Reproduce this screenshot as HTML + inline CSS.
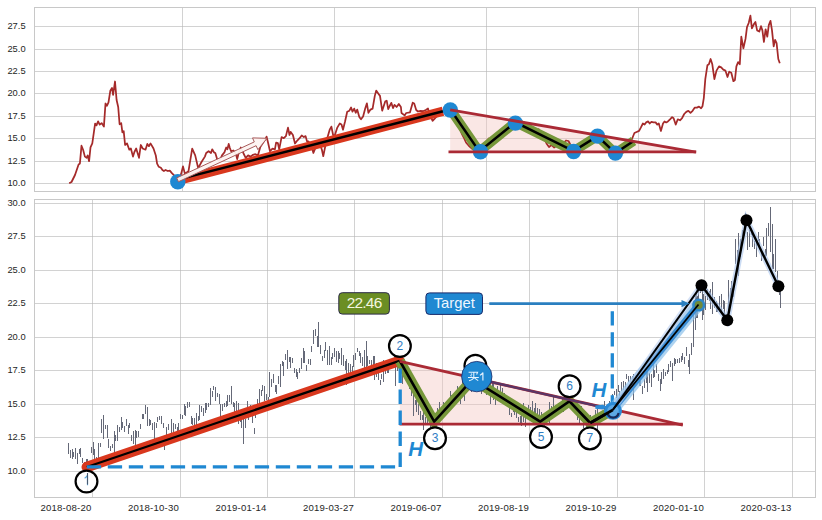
<!DOCTYPE html><html><head><meta charset="utf-8"><style>html,body{margin:0;padding:0;background:#fff;overflow:hidden;}svg{display:block;}</style></head><body>
<svg width="822" height="520" viewBox="0 0 822 520" font-family="Liberation Sans, sans-serif">
<rect width="822" height="520" fill="#fff"/>
<g stroke="#b6b6b6" stroke-opacity="0.62" stroke-width="1" fill="none" shape-rendering="crispEdges">
<line x1="34" y1="26.5" x2="816" y2="26.5"/>
<line x1="34" y1="49.5" x2="816" y2="49.5"/>
<line x1="34" y1="71.5" x2="816" y2="71.5"/>
<line x1="34" y1="93.5" x2="816" y2="93.5"/>
<line x1="34" y1="116.5" x2="816" y2="116.5"/>
<line x1="34" y1="138.5" x2="816" y2="138.5"/>
<line x1="34" y1="161.5" x2="816" y2="161.5"/>
<line x1="34" y1="183.5" x2="816" y2="183.5"/>
<line x1="182.5" y1="7" x2="182.5" y2="192"/>
<line x1="334.5" y1="7" x2="334.5" y2="192"/>
<line x1="486.5" y1="7" x2="486.5" y2="192"/>
<line x1="638.5" y1="7" x2="638.5" y2="192"/>
<line x1="790.5" y1="7" x2="790.5" y2="192"/>
<rect x="34.5" y="7.5" width="781" height="184" stroke="#c8c8c8" stroke-opacity="1"/>
<line x1="34" y1="203.5" x2="816" y2="203.5"/>
<line x1="34" y1="236.5" x2="816" y2="236.5"/>
<line x1="34" y1="270.5" x2="816" y2="270.5"/>
<line x1="34" y1="303.5" x2="816" y2="303.5"/>
<line x1="34" y1="337.5" x2="816" y2="337.5"/>
<line x1="34" y1="370.5" x2="816" y2="370.5"/>
<line x1="34" y1="404.5" x2="816" y2="404.5"/>
<line x1="34" y1="437.5" x2="816" y2="437.5"/>
<line x1="34" y1="471.5" x2="816" y2="471.5"/>
<line x1="92.5" y1="199" x2="92.5" y2="498"/>
<line x1="180.5" y1="199" x2="180.5" y2="498"/>
<line x1="267.5" y1="199" x2="267.5" y2="498"/>
<line x1="354.5" y1="199" x2="354.5" y2="498"/>
<line x1="442.5" y1="199" x2="442.5" y2="498"/>
<line x1="529.5" y1="199" x2="529.5" y2="498"/>
<line x1="617.5" y1="199" x2="617.5" y2="498"/>
<line x1="704.5" y1="199" x2="704.5" y2="498"/>
<line x1="792.5" y1="199" x2="792.5" y2="498"/>
<rect x="34.5" y="199.5" width="781" height="298" stroke="#c8c8c8" stroke-opacity="1"/>
</g>
<g fill="#262626" font-size="9.35" text-anchor="end">
<text x="25.6" y="29.4">27.5</text>
<text x="25.6" y="52.4">25.0</text>
<text x="25.6" y="74.4">22.5</text>
<text x="25.6" y="96.4">20.0</text>
<text x="25.6" y="119.4">17.5</text>
<text x="25.6" y="141.4">15.0</text>
<text x="25.6" y="164.4">12.5</text>
<text x="25.6" y="186.4">10.0</text>
<text x="25.6" y="206.4">30.0</text>
<text x="25.6" y="239.4">27.5</text>
<text x="25.6" y="273.4">25.0</text>
<text x="25.6" y="306.4">22.5</text>
<text x="25.6" y="340.4">20.0</text>
<text x="25.6" y="373.4">17.5</text>
<text x="25.6" y="407.4">15.0</text>
<text x="25.6" y="440.4">12.5</text>
<text x="25.6" y="474.4">10.0</text>
<text x="91.5" y="511" font-size="9.6" letter-spacing="0.2">2018-08-20</text>
<text x="179.0" y="511" font-size="9.6" letter-spacing="0.2">2018-10-30</text>
<text x="266.5" y="511" font-size="9.6" letter-spacing="0.2">2019-01-14</text>
<text x="354.0" y="511" font-size="9.6" letter-spacing="0.2">2019-03-27</text>
<text x="441.5" y="511" font-size="9.6" letter-spacing="0.2">2019-06-07</text>
<text x="529.0" y="511" font-size="9.6" letter-spacing="0.2">2019-08-19</text>
<text x="616.5" y="511" font-size="9.6" letter-spacing="0.2">2019-10-29</text>
<text x="704.0" y="511" font-size="9.6" letter-spacing="0.2">2020-01-10</text>
<text x="791.5" y="511" font-size="9.6" letter-spacing="0.2">2020-03-13</text>
</g>
<polygon points="450.2,109.8 696,152.1 696,151.9 450.2,151.9" fill="#f4c6c0" fill-opacity="0.42"/>
<path d="M69.2,183.2 L71.5,182.0 L75.0,175.0 L78.5,164.7 L79.9,163.5 L81.5,145.7 L83.1,149.7 L84.9,156.6 L86.6,157.8 L87.7,155.5 L89.1,161.2 L90.5,147.4 L92.3,143.4 L95.1,123.6 L96.5,125.4 L98.1,121.3 L99.7,124.7 L101.6,123.1 L103.9,126.6 L105.5,103.5 L106.9,105.8 L108.5,102.3 L110.3,90.8 L112.0,88.0 L113.1,94.9 L115.0,81.5 L116.6,100.0 L118.2,107.0 L119.6,124.3 L121.2,123.1 L122.4,132.4 L123.7,131.2 L125.1,145.0 L127.0,143.4 L129.3,149.7 L130.9,148.5 L133.0,156.6 L134.4,152.0 L136.2,148.5 L139.0,157.8 L140.8,145.0 L142.7,148.5 L145.5,149.7 L147.3,143.9 L148.9,146.2 L150.5,143.4 L153.5,148.5 L155.8,155.5 L157.1,163.6 L158.8,166.8 L160.9,167.8 L162.4,170.0 L163.9,171.0 L165.6,170.0 L167.7,171.0 L169.8,170.6 L171.9,173.1 L175.1,176.3 L178.3,180.5 L181.2,173.7 L183.0,166.4 L184.9,173.7 L188.5,171.2 L192.2,148.7 L195.2,155.4 L198.2,168.2 L201.5,162.0 L204.9,156.6 L206.2,153.0 L208.6,151.2 L211.0,153.0 L212.2,149.3 L214.0,152.4 L215.3,153.0 L217.1,159.1 L219.5,161.0 L222.0,155.4 L224.4,152.4 L226.2,147.5 L227.4,149.3 L228.7,143.9 L229.9,148.1 L231.1,151.2 L233.5,150.5 L236.0,154.2 L237.2,159.1 L238.4,154.2 L240.8,147.5 L243.3,153.0 L245.7,157.8 L248.1,155.4 L250.6,156.6 L253.0,154.8 L255.4,154.2 L257.9,155.4 L260.3,146.9 L262.7,143.2 L265.2,139.6 L266.6,136.6 L268.2,143.2 L270.0,151.2 L272.5,148.7 L274.9,149.3 L276.1,142.6 L277.9,143.2 L279.2,149.3 L281.6,137.1 L283.8,138.2 L285.9,136.1 L288.0,127.6 L289.5,135.0 L290.7,131.9 L292.9,135.0 L295.0,143.5 L297.5,140.3 L299.6,138.2 L301.7,135.4 L303.9,137.1 L305.6,136.1 L307.0,141.4 L308.5,141.4 L311.3,145.6 L313.4,153.0 L315.5,147.7 L317.6,143.5 L320.4,145.6 L321.9,149.8 L323.3,156.2 L325.4,145.6 L327.6,137.1 L329.7,129.7 L331.4,126.6 L333.1,135.0 L334.6,136.1 L337.3,127.6 L339.8,123.4 L341.5,124.4 L343.0,129.7 L345.1,121.3 L347.2,111.7 L349.4,110.7 L351.1,107.5 L352.5,111.7 L354.2,108.6 L355.7,112.8 L357.2,109.6 L359.3,117.0 L361.0,119.2 L363.1,116.4 L365.2,108.6 L366.9,103.3 L368.4,112.8 L370.5,109.6 L372.6,108.6 L374.8,95.9 L376.2,90.6 L378.4,93.8 L380.0,95.9 L382.2,110.7 L385.3,101.2 L386.7,100.7 L388.2,109.2 L389.7,106.0 L391.3,102.8 L393.0,108.1 L394.5,104.9 L396.6,107.0 L398.8,103.9 L400.9,107.0 L401.5,113.0 L404.6,115.4 L406.2,113.0 L410.0,112.3 L412.7,102.7 L414.2,103.5 L416.2,110.0 L418.0,111.5 L420.4,110.8 L423.0,111.2 L425.8,110.0 L428.0,108.5 L429.4,114.4 L431.1,117.6 L432.6,120.8 L434.7,118.7 L437.0,116.0 L440.0,114.0 L443.0,112.0 L446.0,111.0 L450.2,109.8 L453.5,115.0 L456.5,121.5 L459.5,128.5 L461.5,133.0 L463.5,137.0 L466.0,142.5 L469.0,146.0 L472.5,149.0 L476.0,151.0 L479.3,151.5 L482.0,148.0 L485.0,143.0 L488.7,138.5 L491.0,140.0 L494.0,136.0 L497.5,133.0 L501.0,130.5 L504.5,128.0 L508.0,126.0 L511.0,124.5 L515.4,122.3 L519.0,124.0 L523.0,126.5 L527.0,128.0 L531.0,130.0 L535.0,131.5 L538.7,129.2 L541.0,134.0 L544.0,138.0 L546.5,143.5 L549.0,147.0 L551.5,145.0 L554.0,147.5 L557.0,145.5 L560.0,146.0 L563.0,143.5 L566.0,140.5 L568.5,141.0 L571.0,146.0 L573.6,150.5 L577.0,147.0 L581.0,144.0 L585.0,141.5 L589.0,139.5 L593.0,137.5 L597.5,136.1 L601.0,140.0 L604.0,143.5 L607.0,147.0 L610.0,150.0 L613.0,152.5 L615.4,153.1 L619.0,150.0 L623.0,147.0 L627.0,144.0 L630.0,141.0 L632.3,138.3 L634.4,133.0 L636.6,132.0 L639.1,130.9 L640.8,127.7 L642.9,123.5 L644.6,124.6 L646.1,122.4 L648.2,121.4 L649.7,123.5 L651.4,121.8 L653.5,122.4 L655.6,122.4 L657.3,124.6 L658.8,123.5 L660.9,130.9 L663.0,123.5 L664.5,121.4 L666.2,122.4 L667.9,121.4 L670.0,119.3 L672.1,117.1 L673.6,118.2 L675.7,124.6 L677.8,119.3 L680.0,120.3 L682.1,118.2 L684.2,114.0 L686.3,111.9 L688.4,110.8 L690.5,112.9 L692.6,110.8 L694.8,107.6 L696.9,107.6 L699.0,106.6 L701.1,108.3 L702.5,106.2 L703.8,98.1 L705.3,79.1 L707.4,65.3 L708.9,64.3 L710.6,59.0 L712.3,64.3 L714.4,79.1 L716.5,70.6 L719.0,66.4 L721.2,67.4 L723.3,69.6 L725.4,70.6 L727.5,77.0 L729.2,71.7 L731.3,72.7 L733.4,81.2 L734.9,80.1 L736.4,66.4 L738.1,62.1 L739.8,64.3 L741.3,36.7 L743.4,48.4 L745.5,38.9 L747.0,27.2 L748.7,23.0 L750.4,15.6 L751.9,28.3 L754.0,24.0 L755.4,21.9 L757.1,30.4 L759.3,31.5 L761.0,26.2 L762.4,30.4 L763.9,42.0 L765.6,29.3 L767.3,36.7 L768.8,25.1 L770.5,20.9 L772.0,30.4 L773.7,46.3 L775.1,39.9 L776.6,43.1 L778.3,59.0 L779.8,63.2" fill="none" stroke="#a52a2a" stroke-width="1.75" stroke-linejoin="round"/>
<line x1="177.7" y1="180.6" x2="443" y2="111.3" stroke="#d9381e" stroke-width="9.2" stroke-linecap="butt"/>
<line x1="177.7" y1="179.6" x2="443" y2="111.3" stroke="#000" stroke-width="2.5"/>
<polyline points="450.6,109.8 479.3,151.5 515.4,122.3 573.6,151.0 597.5,136.1 615.4,153.1 633.6,141.0" fill="none" stroke="#76973a" stroke-width="9.5" stroke-linejoin="miter"/>
<polyline points="450.6,109.8 479.3,151.5 515.4,122.3 573.6,151.0 597.5,136.1 615.4,153.1 633.6,141.0" fill="none" stroke="#000" stroke-width="2.5" stroke-linejoin="miter"/>
<circle cx="177.8" cy="181.8" r="7.7" fill="#1f88d2"/>
<circle cx="450.3" cy="110.0" r="7.7" fill="#1f88d2"/>
<circle cx="480.5" cy="151.7" r="7.7" fill="#1f88d2"/>
<circle cx="515.4" cy="123.1" r="7.7" fill="#1f88d2"/>
<circle cx="573.6" cy="151.5" r="7.7" fill="#1f88d2"/>
<circle cx="597.5" cy="136.1" r="7.7" fill="#1f88d2"/>
<circle cx="615.4" cy="153.1" r="7.7" fill="#1f88d2"/>
<line x1="450.2" y1="109.8" x2="696" y2="152.1" stroke="#aa2a35" stroke-width="2.8"/>
<line x1="448.5" y1="151.9" x2="696.2" y2="151.9" stroke="#aa2a35" stroke-width="2.8"/>
<path d="M178.5,181.7 L256.1,145.7 L257.9,149.7 L267.0,138.3 L252.5,137.9 L254.3,141.9 L176.7,177.9 Z" fill="#fdf3f1" fill-opacity="0.95" stroke="#a85a5a" stroke-width="1"/>
<polygon points="399.9,361.4 682.8,425.2 682.8,424.2 399.9,424.2" fill="#f4c6c0" fill-opacity="0.42"/>
<g stroke="#656978" stroke-width="1" shape-rendering="crispEdges">
<line x1="68.5" y1="443" x2="68.5" y2="454"/>
<line x1="70.5" y1="450" x2="70.5" y2="458"/>
<line x1="72.5" y1="449" x2="72.5" y2="459"/>
<line x1="73.5" y1="452" x2="73.5" y2="457"/>
<line x1="75.5" y1="448" x2="75.5" y2="459"/>
<line x1="77.5" y1="453" x2="77.5" y2="464"/>
<line x1="79.5" y1="449" x2="79.5" y2="454"/>
<line x1="80.5" y1="448" x2="80.5" y2="457"/>
<line x1="82.5" y1="458" x2="82.5" y2="463"/>
<line x1="84.5" y1="462" x2="84.5" y2="470"/>
<line x1="86.5" y1="459" x2="86.5" y2="467"/>
<line x1="87.5" y1="459" x2="87.5" y2="467"/>
<line x1="89.5" y1="463" x2="89.5" y2="474"/>
<line x1="91.5" y1="447" x2="91.5" y2="453"/>
<line x1="93.5" y1="442" x2="93.5" y2="455"/>
<line x1="94.5" y1="449" x2="94.5" y2="464"/>
<line x1="96.5" y1="457" x2="96.5" y2="461"/>
<line x1="98.5" y1="443" x2="98.5" y2="461"/>
<line x1="100.5" y1="443" x2="100.5" y2="447"/>
<line x1="101.5" y1="419" x2="101.5" y2="433"/>
<line x1="103.5" y1="415" x2="103.5" y2="439"/>
<line x1="105.5" y1="425" x2="105.5" y2="429"/>
<line x1="107.5" y1="425" x2="107.5" y2="438"/>
<line x1="108.5" y1="439" x2="108.5" y2="448"/>
<line x1="110.5" y1="446" x2="110.5" y2="451"/>
<line x1="112.5" y1="444" x2="112.5" y2="448"/>
<line x1="114.5" y1="431" x2="114.5" y2="456"/>
<line x1="115.5" y1="435" x2="115.5" y2="441"/>
<line x1="117.5" y1="425" x2="117.5" y2="441"/>
<line x1="119.5" y1="427" x2="119.5" y2="432"/>
<line x1="121.5" y1="417" x2="121.5" y2="430"/>
<line x1="122.5" y1="422" x2="122.5" y2="428"/>
<line x1="124.5" y1="426" x2="124.5" y2="432"/>
<line x1="126.5" y1="419" x2="126.5" y2="426"/>
<line x1="128.5" y1="425" x2="128.5" y2="434"/>
<line x1="129.5" y1="423" x2="129.5" y2="428"/>
<line x1="131.5" y1="435" x2="131.5" y2="441"/>
<line x1="133.5" y1="431" x2="133.5" y2="444"/>
<line x1="135.5" y1="430" x2="135.5" y2="447"/>
<line x1="136.5" y1="431" x2="136.5" y2="438"/>
<line x1="138.5" y1="431" x2="138.5" y2="437"/>
<line x1="140.5" y1="424" x2="140.5" y2="429"/>
<line x1="142.5" y1="414" x2="142.5" y2="419"/>
<line x1="143.5" y1="414" x2="143.5" y2="419"/>
<line x1="145.5" y1="405" x2="145.5" y2="414"/>
<line x1="147.5" y1="407" x2="147.5" y2="426"/>
<line x1="149.5" y1="419" x2="149.5" y2="426"/>
<line x1="150.5" y1="420" x2="150.5" y2="425"/>
<line x1="152.5" y1="423" x2="152.5" y2="430"/>
<line x1="154.5" y1="422" x2="154.5" y2="448"/>
<line x1="156.5" y1="423" x2="156.5" y2="428"/>
<line x1="157.5" y1="417" x2="157.5" y2="422"/>
<line x1="159.5" y1="416" x2="159.5" y2="420"/>
<line x1="161.5" y1="416" x2="161.5" y2="424"/>
<line x1="163.5" y1="423" x2="163.5" y2="428"/>
<line x1="164.5" y1="438" x2="164.5" y2="450"/>
<line x1="166.5" y1="427" x2="166.5" y2="440"/>
<line x1="168.5" y1="424" x2="168.5" y2="430"/>
<line x1="170.5" y1="433" x2="170.5" y2="440"/>
<line x1="171.5" y1="419" x2="171.5" y2="435"/>
<line x1="173.5" y1="423" x2="173.5" y2="432"/>
<line x1="175.5" y1="424" x2="175.5" y2="429"/>
<line x1="177.5" y1="427" x2="177.5" y2="439"/>
<line x1="178.5" y1="423" x2="178.5" y2="435"/>
<line x1="180.5" y1="414" x2="180.5" y2="419"/>
<line x1="182.5" y1="415" x2="182.5" y2="419"/>
<line x1="184.5" y1="404" x2="184.5" y2="415"/>
<line x1="185.5" y1="406" x2="185.5" y2="416"/>
<line x1="187.5" y1="402" x2="187.5" y2="408"/>
<line x1="189.5" y1="402" x2="189.5" y2="407"/>
<line x1="191.5" y1="416" x2="191.5" y2="424"/>
<line x1="192.5" y1="418" x2="192.5" y2="425"/>
<line x1="194.5" y1="418" x2="194.5" y2="432"/>
<line x1="196.5" y1="413" x2="196.5" y2="430"/>
<line x1="198.5" y1="416" x2="198.5" y2="421"/>
<line x1="199.5" y1="405" x2="199.5" y2="420"/>
<line x1="201.5" y1="406" x2="201.5" y2="412"/>
<line x1="203.5" y1="408" x2="203.5" y2="416"/>
<line x1="205.5" y1="403" x2="205.5" y2="413"/>
<line x1="206.5" y1="403" x2="206.5" y2="410"/>
<line x1="208.5" y1="403" x2="208.5" y2="407"/>
<line x1="210.5" y1="388" x2="210.5" y2="405"/>
<line x1="212.5" y1="391" x2="212.5" y2="397"/>
<line x1="213.5" y1="386" x2="213.5" y2="390"/>
<line x1="215.5" y1="387" x2="215.5" y2="401"/>
<line x1="217.5" y1="393" x2="217.5" y2="397"/>
<line x1="219.5" y1="394" x2="219.5" y2="404"/>
<line x1="220.5" y1="404" x2="220.5" y2="418"/>
<line x1="222.5" y1="404" x2="222.5" y2="411"/>
<line x1="224.5" y1="403" x2="224.5" y2="407"/>
<line x1="226.5" y1="401" x2="226.5" y2="407"/>
<line x1="227.5" y1="395" x2="227.5" y2="406"/>
<line x1="229.5" y1="395" x2="229.5" y2="402"/>
<line x1="231.5" y1="386" x2="231.5" y2="404"/>
<line x1="233.5" y1="402" x2="233.5" y2="407"/>
<line x1="234.5" y1="403" x2="234.5" y2="413"/>
<line x1="236.5" y1="401" x2="236.5" y2="418"/>
<line x1="238.5" y1="403" x2="238.5" y2="424"/>
<line x1="240.5" y1="410" x2="240.5" y2="422"/>
<line x1="241.5" y1="418" x2="241.5" y2="428"/>
<line x1="243.5" y1="418" x2="243.5" y2="444"/>
<line x1="245.5" y1="419" x2="245.5" y2="428"/>
<line x1="247.5" y1="401" x2="247.5" y2="416"/>
<line x1="248.5" y1="416" x2="248.5" y2="420"/>
<line x1="250.5" y1="405" x2="250.5" y2="413"/>
<line x1="252.5" y1="410" x2="252.5" y2="423"/>
<line x1="254.5" y1="428" x2="254.5" y2="434"/>
<line x1="255.5" y1="413" x2="255.5" y2="418"/>
<line x1="257.5" y1="399" x2="257.5" y2="414"/>
<line x1="259.5" y1="389" x2="259.5" y2="410"/>
<line x1="261.5" y1="390" x2="261.5" y2="396"/>
<line x1="262.5" y1="385" x2="262.5" y2="391"/>
<line x1="264.5" y1="386" x2="264.5" y2="401"/>
<line x1="266.5" y1="394" x2="266.5" y2="400"/>
<line x1="268.5" y1="397" x2="268.5" y2="403"/>
<line x1="269.5" y1="372" x2="269.5" y2="397"/>
<line x1="271.5" y1="379" x2="271.5" y2="387"/>
<line x1="273.5" y1="374" x2="273.5" y2="383"/>
<line x1="275.5" y1="385" x2="275.5" y2="392"/>
<line x1="276.5" y1="385" x2="276.5" y2="394"/>
<line x1="278.5" y1="376" x2="278.5" y2="384"/>
<line x1="280.5" y1="364" x2="280.5" y2="387"/>
<line x1="282.5" y1="361" x2="282.5" y2="366"/>
<line x1="283.5" y1="362" x2="283.5" y2="376"/>
<line x1="285.5" y1="354" x2="285.5" y2="360"/>
<line x1="287.5" y1="350" x2="287.5" y2="369"/>
<line x1="289.5" y1="357" x2="289.5" y2="362"/>
<line x1="290.5" y1="357" x2="290.5" y2="368"/>
<line x1="292.5" y1="358" x2="292.5" y2="363"/>
<line x1="294.5" y1="368" x2="294.5" y2="373"/>
<line x1="296.5" y1="369" x2="296.5" y2="377"/>
<line x1="297.5" y1="372" x2="297.5" y2="379"/>
<line x1="299.5" y1="368" x2="299.5" y2="373"/>
<line x1="301.5" y1="358" x2="301.5" y2="369"/>
<line x1="303.5" y1="348" x2="303.5" y2="363"/>
<line x1="304.5" y1="351" x2="304.5" y2="363"/>
<line x1="306.5" y1="365" x2="306.5" y2="371"/>
<line x1="308.5" y1="359" x2="308.5" y2="364"/>
<line x1="310.5" y1="359" x2="310.5" y2="365"/>
<line x1="311.5" y1="346" x2="311.5" y2="352"/>
<line x1="313.5" y1="330" x2="313.5" y2="344"/>
<line x1="315.5" y1="329" x2="315.5" y2="336"/>
<line x1="317.5" y1="336" x2="317.5" y2="347"/>
<line x1="318.5" y1="322" x2="318.5" y2="347"/>
<line x1="320.5" y1="345" x2="320.5" y2="354"/>
<line x1="322.5" y1="356" x2="322.5" y2="361"/>
<line x1="324.5" y1="350" x2="324.5" y2="358"/>
<line x1="325.5" y1="342" x2="325.5" y2="351"/>
<line x1="327.5" y1="350" x2="327.5" y2="365"/>
<line x1="329.5" y1="346" x2="329.5" y2="365"/>
<line x1="331.5" y1="357" x2="331.5" y2="365"/>
<line x1="332.5" y1="353" x2="332.5" y2="359"/>
<line x1="334.5" y1="348" x2="334.5" y2="357"/>
<line x1="336.5" y1="351" x2="336.5" y2="362"/>
<line x1="338.5" y1="351" x2="338.5" y2="363"/>
<line x1="339.5" y1="353" x2="339.5" y2="359"/>
<line x1="341.5" y1="348" x2="341.5" y2="365"/>
<line x1="343.5" y1="355" x2="343.5" y2="366"/>
<line x1="345.5" y1="361" x2="345.5" y2="370"/>
<line x1="346.5" y1="359" x2="346.5" y2="385"/>
<line x1="348.5" y1="363" x2="348.5" y2="376"/>
<line x1="350.5" y1="364" x2="350.5" y2="378"/>
<line x1="352.5" y1="366" x2="352.5" y2="377"/>
<line x1="353.5" y1="355" x2="353.5" y2="367"/>
<line x1="355.5" y1="353" x2="355.5" y2="360"/>
<line x1="357.5" y1="348" x2="357.5" y2="352"/>
<line x1="359.5" y1="351" x2="359.5" y2="356"/>
<line x1="360.5" y1="353" x2="360.5" y2="363"/>
<line x1="362.5" y1="357" x2="362.5" y2="366"/>
<line x1="364.5" y1="350" x2="364.5" y2="376"/>
<line x1="366.5" y1="341" x2="366.5" y2="367"/>
<line x1="367.5" y1="356" x2="367.5" y2="366"/>
<line x1="369.5" y1="360" x2="369.5" y2="364"/>
<line x1="371.5" y1="360" x2="371.5" y2="366"/>
<line x1="373.5" y1="356" x2="373.5" y2="365"/>
<line x1="374.5" y1="356" x2="374.5" y2="380"/>
<line x1="376.5" y1="363" x2="376.5" y2="377"/>
<line x1="378.5" y1="371" x2="378.5" y2="380"/>
<line x1="380.5" y1="380" x2="380.5" y2="385"/>
<line x1="381.5" y1="374" x2="381.5" y2="379"/>
<line x1="383.5" y1="360" x2="383.5" y2="382"/>
<line x1="385.5" y1="366" x2="385.5" y2="374"/>
<line x1="387.5" y1="363" x2="387.5" y2="373"/>
<line x1="388.5" y1="367" x2="388.5" y2="373"/>
<line x1="390.5" y1="361" x2="390.5" y2="367"/>
<line x1="392.5" y1="363" x2="392.5" y2="368"/>
<line x1="394.5" y1="350" x2="394.5" y2="362"/>
<line x1="395.5" y1="360" x2="395.5" y2="386"/>
<line x1="397.5" y1="363" x2="397.5" y2="371"/>
<line x1="399.5" y1="347" x2="399.5" y2="373"/>
<line x1="401.5" y1="352" x2="401.5" y2="363"/>
<line x1="402.5" y1="358" x2="402.5" y2="384"/>
<line x1="404.5" y1="365" x2="404.5" y2="375"/>
<line x1="406.5" y1="371" x2="406.5" y2="377"/>
<line x1="408.5" y1="377" x2="408.5" y2="385"/>
<line x1="409.5" y1="381" x2="409.5" y2="389"/>
<line x1="411.5" y1="383" x2="411.5" y2="396"/>
<line x1="413.5" y1="390" x2="413.5" y2="416"/>
<line x1="415.5" y1="400" x2="415.5" y2="405"/>
<line x1="416.5" y1="399" x2="416.5" y2="412"/>
<line x1="418.5" y1="404" x2="418.5" y2="415"/>
<line x1="420.5" y1="411" x2="420.5" y2="420"/>
<line x1="422.5" y1="415" x2="422.5" y2="420"/>
<line x1="423.5" y1="411" x2="423.5" y2="430"/>
<line x1="425.5" y1="417" x2="425.5" y2="423"/>
<line x1="427.5" y1="414" x2="427.5" y2="424"/>
<line x1="429.5" y1="420" x2="429.5" y2="424"/>
<line x1="430.5" y1="419" x2="430.5" y2="428"/>
<line x1="432.5" y1="418" x2="432.5" y2="424"/>
<line x1="434.5" y1="421" x2="434.5" y2="433"/>
<line x1="436.5" y1="415" x2="436.5" y2="429"/>
<line x1="437.5" y1="408" x2="437.5" y2="421"/>
<line x1="439.5" y1="402" x2="439.5" y2="416"/>
<line x1="441.5" y1="408" x2="441.5" y2="418"/>
<line x1="443.5" y1="402" x2="443.5" y2="414"/>
<line x1="444.5" y1="403" x2="444.5" y2="411"/>
<line x1="446.5" y1="407" x2="446.5" y2="411"/>
<line x1="448.5" y1="403" x2="448.5" y2="412"/>
<line x1="450.5" y1="391" x2="450.5" y2="404"/>
<line x1="451.5" y1="395" x2="451.5" y2="400"/>
<line x1="453.5" y1="394" x2="453.5" y2="406"/>
<line x1="455.5" y1="392" x2="455.5" y2="398"/>
<line x1="457.5" y1="386" x2="457.5" y2="393"/>
<line x1="458.5" y1="390" x2="458.5" y2="401"/>
<line x1="460.5" y1="386" x2="460.5" y2="404"/>
<line x1="462.5" y1="377" x2="462.5" y2="391"/>
<line x1="464.5" y1="381" x2="464.5" y2="401"/>
<line x1="465.5" y1="385" x2="465.5" y2="391"/>
<line x1="467.5" y1="379" x2="467.5" y2="386"/>
<line x1="469.5" y1="383" x2="469.5" y2="388"/>
<line x1="471.5" y1="377" x2="471.5" y2="392"/>
<line x1="472.5" y1="377" x2="472.5" y2="382"/>
<line x1="474.5" y1="380" x2="474.5" y2="384"/>
<line x1="476.5" y1="375" x2="476.5" y2="384"/>
<line x1="478.5" y1="375" x2="478.5" y2="389"/>
<line x1="479.5" y1="379" x2="479.5" y2="388"/>
<line x1="481.5" y1="382" x2="481.5" y2="394"/>
<line x1="483.5" y1="385" x2="483.5" y2="389"/>
<line x1="485.5" y1="383" x2="485.5" y2="393"/>
<line x1="486.5" y1="389" x2="486.5" y2="395"/>
<line x1="488.5" y1="380" x2="488.5" y2="387"/>
<line x1="490.5" y1="379" x2="490.5" y2="404"/>
<line x1="492.5" y1="383" x2="492.5" y2="395"/>
<line x1="493.5" y1="382" x2="493.5" y2="400"/>
<line x1="495.5" y1="390" x2="495.5" y2="405"/>
<line x1="497.5" y1="386" x2="497.5" y2="401"/>
<line x1="499.5" y1="393" x2="499.5" y2="401"/>
<line x1="500.5" y1="383" x2="500.5" y2="397"/>
<line x1="502.5" y1="388" x2="502.5" y2="400"/>
<line x1="504.5" y1="393" x2="504.5" y2="400"/>
<line x1="506.5" y1="400" x2="506.5" y2="406"/>
<line x1="507.5" y1="403" x2="507.5" y2="407"/>
<line x1="509.5" y1="402" x2="509.5" y2="415"/>
<line x1="511.5" y1="413" x2="511.5" y2="417"/>
<line x1="513.5" y1="408" x2="513.5" y2="412"/>
<line x1="514.5" y1="410" x2="514.5" y2="415"/>
<line x1="516.5" y1="408" x2="516.5" y2="418"/>
<line x1="518.5" y1="417" x2="518.5" y2="422"/>
<line x1="520.5" y1="416" x2="520.5" y2="423"/>
<line x1="521.5" y1="412" x2="521.5" y2="426"/>
<line x1="523.5" y1="403" x2="523.5" y2="422"/>
<line x1="525.5" y1="418" x2="525.5" y2="427"/>
<line x1="527.5" y1="412" x2="527.5" y2="416"/>
<line x1="528.5" y1="405" x2="528.5" y2="419"/>
<line x1="530.5" y1="407" x2="530.5" y2="413"/>
<line x1="532.5" y1="401" x2="532.5" y2="412"/>
<line x1="534.5" y1="408" x2="534.5" y2="415"/>
<line x1="535.5" y1="403" x2="535.5" y2="415"/>
<line x1="537.5" y1="408" x2="537.5" y2="414"/>
<line x1="539.5" y1="409" x2="539.5" y2="425"/>
<line x1="541.5" y1="412" x2="541.5" y2="418"/>
<line x1="542.5" y1="414" x2="542.5" y2="419"/>
<line x1="544.5" y1="419" x2="544.5" y2="434"/>
<line x1="546.5" y1="414" x2="546.5" y2="418"/>
<line x1="548.5" y1="411" x2="548.5" y2="419"/>
<line x1="549.5" y1="402" x2="549.5" y2="425"/>
<line x1="551.5" y1="406" x2="551.5" y2="419"/>
<line x1="553.5" y1="395" x2="553.5" y2="413"/>
<line x1="555.5" y1="405" x2="555.5" y2="414"/>
<line x1="556.5" y1="405" x2="556.5" y2="410"/>
<line x1="558.5" y1="403" x2="558.5" y2="408"/>
<line x1="560.5" y1="405" x2="560.5" y2="412"/>
<line x1="562.5" y1="399" x2="562.5" y2="404"/>
<line x1="563.5" y1="404" x2="563.5" y2="412"/>
<line x1="565.5" y1="402" x2="565.5" y2="406"/>
<line x1="567.5" y1="391" x2="567.5" y2="402"/>
<line x1="569.5" y1="398" x2="569.5" y2="402"/>
<line x1="570.5" y1="392" x2="570.5" y2="406"/>
<line x1="572.5" y1="400" x2="572.5" y2="407"/>
<line x1="574.5" y1="402" x2="574.5" y2="409"/>
<line x1="576.5" y1="403" x2="576.5" y2="409"/>
<line x1="577.5" y1="408" x2="577.5" y2="420"/>
<line x1="579.5" y1="411" x2="579.5" y2="423"/>
<line x1="581.5" y1="406" x2="581.5" y2="421"/>
<line x1="583.5" y1="417" x2="583.5" y2="428"/>
<line x1="584.5" y1="420" x2="584.5" y2="425"/>
<line x1="586.5" y1="423" x2="586.5" y2="427"/>
<line x1="588.5" y1="419" x2="588.5" y2="424"/>
<line x1="590.5" y1="415" x2="590.5" y2="434"/>
<line x1="591.5" y1="421" x2="591.5" y2="430"/>
<line x1="593.5" y1="419" x2="593.5" y2="426"/>
<line x1="595.5" y1="410" x2="595.5" y2="417"/>
<line x1="597.5" y1="407" x2="597.5" y2="433"/>
<line x1="598.5" y1="415" x2="598.5" y2="425"/>
<line x1="600.5" y1="415" x2="600.5" y2="422"/>
<line x1="602.5" y1="411" x2="602.5" y2="416"/>
<line x1="604.5" y1="401" x2="604.5" y2="416"/>
<line x1="605.5" y1="408" x2="605.5" y2="413"/>
<line x1="607.5" y1="407" x2="607.5" y2="413"/>
<line x1="609.5" y1="401" x2="609.5" y2="406"/>
<line x1="611.5" y1="399" x2="611.5" y2="411"/>
<line x1="612.5" y1="394" x2="612.5" y2="399"/>
<line x1="614.5" y1="391" x2="614.5" y2="395"/>
<line x1="616.5" y1="389" x2="616.5" y2="398"/>
<line x1="618.5" y1="385" x2="618.5" y2="392"/>
<line x1="619.5" y1="391" x2="619.5" y2="396"/>
<line x1="621.5" y1="382" x2="621.5" y2="391"/>
<line x1="623.5" y1="381" x2="623.5" y2="390"/>
<line x1="625.5" y1="382" x2="625.5" y2="396"/>
<line x1="626.5" y1="374" x2="626.5" y2="379"/>
<line x1="628.5" y1="376" x2="628.5" y2="382"/>
<line x1="630.5" y1="376" x2="630.5" y2="391"/>
<line x1="632.5" y1="376" x2="632.5" y2="380"/>
<line x1="633.5" y1="374" x2="633.5" y2="400"/>
<line x1="635.5" y1="375" x2="635.5" y2="386"/>
<line x1="637.5" y1="377" x2="637.5" y2="384"/>
<line x1="639.5" y1="380" x2="639.5" y2="386"/>
<line x1="640.5" y1="381" x2="640.5" y2="386"/>
<line x1="642.5" y1="386" x2="642.5" y2="394"/>
<line x1="644.5" y1="379" x2="644.5" y2="388"/>
<line x1="646.5" y1="372" x2="646.5" y2="383"/>
<line x1="647.5" y1="369" x2="647.5" y2="392"/>
<line x1="649.5" y1="373" x2="649.5" y2="383"/>
<line x1="651.5" y1="374" x2="651.5" y2="387"/>
<line x1="653.5" y1="363" x2="653.5" y2="378"/>
<line x1="654.5" y1="370" x2="654.5" y2="377"/>
<line x1="656.5" y1="364" x2="656.5" y2="373"/>
<line x1="658.5" y1="374" x2="658.5" y2="381"/>
<line x1="660.5" y1="379" x2="660.5" y2="391"/>
<line x1="661.5" y1="372" x2="661.5" y2="384"/>
<line x1="663.5" y1="369" x2="663.5" y2="379"/>
<line x1="665.5" y1="372" x2="665.5" y2="376"/>
<line x1="667.5" y1="370" x2="667.5" y2="374"/>
<line x1="668.5" y1="364" x2="668.5" y2="372"/>
<line x1="670.5" y1="361" x2="670.5" y2="367"/>
<line x1="672.5" y1="363" x2="672.5" y2="381"/>
<line x1="674.5" y1="358" x2="674.5" y2="366"/>
<line x1="675.5" y1="359" x2="675.5" y2="364"/>
<line x1="677.5" y1="359" x2="677.5" y2="363"/>
<line x1="679.5" y1="358" x2="679.5" y2="363"/>
<line x1="681.5" y1="356" x2="681.5" y2="362"/>
<line x1="682.5" y1="353" x2="682.5" y2="360"/>
<line x1="684.5" y1="357" x2="684.5" y2="364"/>
<line x1="686.5" y1="347" x2="686.5" y2="356"/>
<line x1="688.5" y1="360" x2="688.5" y2="367"/>
<line x1="689.5" y1="354" x2="689.5" y2="374"/>
<line x1="691.5" y1="343" x2="691.5" y2="355"/>
<line x1="693.5" y1="301" x2="693.5" y2="334"/>
<line x1="695.5" y1="296" x2="695.5" y2="310"/>
<line x1="696.5" y1="286" x2="696.5" y2="318"/>
<line x1="698.5" y1="289" x2="698.5" y2="299"/>
<line x1="700.5" y1="285" x2="700.5" y2="293"/>
<line x1="702.5" y1="286" x2="702.5" y2="320"/>
<line x1="703.5" y1="294" x2="703.5" y2="315"/>
<line x1="705.5" y1="296" x2="705.5" y2="310"/>
<line x1="707.5" y1="289" x2="707.5" y2="300"/>
<line x1="709.5" y1="291" x2="709.5" y2="301"/>
<line x1="710.5" y1="289" x2="710.5" y2="309"/>
<line x1="712.5" y1="282" x2="712.5" y2="314"/>
<line x1="714.5" y1="297" x2="714.5" y2="308"/>
<line x1="716.5" y1="301" x2="716.5" y2="312"/>
<line x1="717.5" y1="303" x2="717.5" y2="312"/>
<line x1="719.5" y1="296" x2="719.5" y2="312"/>
<line x1="721.5" y1="294" x2="721.5" y2="312"/>
<line x1="723.5" y1="300" x2="723.5" y2="309"/>
<line x1="724.5" y1="301" x2="724.5" y2="324"/>
<line x1="726.5" y1="315" x2="726.5" y2="325"/>
<line x1="728.5" y1="280" x2="728.5" y2="325"/>
<line x1="730.5" y1="288" x2="730.5" y2="301"/>
<line x1="731.5" y1="281" x2="731.5" y2="296"/>
<line x1="733.5" y1="284" x2="733.5" y2="297"/>
<line x1="735.5" y1="239" x2="735.5" y2="264"/>
<line x1="737.5" y1="250" x2="737.5" y2="271"/>
<line x1="738.5" y1="233" x2="738.5" y2="276"/>
<line x1="740.5" y1="239" x2="740.5" y2="257"/>
<line x1="742.5" y1="230" x2="742.5" y2="244"/>
<line x1="744.5" y1="226" x2="744.5" y2="236"/>
<line x1="745.5" y1="213" x2="745.5" y2="223"/>
<line x1="747.5" y1="232" x2="747.5" y2="250"/>
<line x1="749.5" y1="230" x2="749.5" y2="247"/>
<line x1="751.5" y1="228" x2="751.5" y2="235"/>
<line x1="752.5" y1="233" x2="752.5" y2="247"/>
<line x1="754.5" y1="241" x2="754.5" y2="249"/>
<line x1="756.5" y1="239" x2="756.5" y2="257"/>
<line x1="758.5" y1="232" x2="758.5" y2="241"/>
<line x1="759.5" y1="239" x2="759.5" y2="247"/>
<line x1="761.5" y1="250" x2="761.5" y2="261"/>
<line x1="763.5" y1="237" x2="763.5" y2="246"/>
<line x1="765.5" y1="249" x2="765.5" y2="258"/>
<line x1="766.5" y1="228" x2="766.5" y2="256"/>
<line x1="768.5" y1="223" x2="768.5" y2="236"/>
<line x1="770.5" y1="207" x2="770.5" y2="252"/>
<line x1="772.5" y1="224" x2="772.5" y2="269"/>
<line x1="773.5" y1="254" x2="773.5" y2="269"/>
<line x1="775.5" y1="239" x2="775.5" y2="272"/>
<line x1="777.5" y1="271" x2="777.5" y2="284"/>
<line x1="779.5" y1="287" x2="779.5" y2="295"/>
<line x1="780.5" y1="284" x2="780.5" y2="308"/>
<line x1="693.5" y1="311" x2="693.5" y2="347"/>
<line x1="695.5" y1="300" x2="695.5" y2="330"/>
<line x1="697.5" y1="296" x2="697.5" y2="318"/>
</g>
<line x1="86.8" y1="467.0" x2="399.5" y2="360.9" stroke="#d9381e" stroke-width="10.5" stroke-linecap="round"/>
<line x1="86.8" y1="467.0" x2="399.5" y2="360.9" stroke="#000" stroke-width="2.3"/>
<polyline points="399.9,361.0 434.2,421.6 472.5,379.4 540.2,421.6 569.5,401.3 590.2,423.0 612.7,410.0" fill="none" stroke="#76973a" stroke-width="10" stroke-linejoin="miter"/>
<polyline points="399.9,361.0 434.2,421.6 472.5,379.4 540.2,421.6 569.5,401.3 590.2,423.0 612.7,410.0" fill="none" stroke="#000" stroke-width="2.6"/>
<line x1="399.9" y1="361.4" x2="682.8" y2="425.2" stroke="#aa2a35" stroke-width="2.8"/>
<line x1="399.5" y1="424.2" x2="682.8" y2="424.2" stroke="#aa2a35" stroke-width="2.8"/>
<line x1="476" y1="378.6" x2="612" y2="409.3" stroke="#5a3566" stroke-width="2.3"/>
<g stroke="#1f88d2" stroke-width="3.3" stroke-dasharray="14.3 6.7" fill="none">
<line x1="86.8" y1="466.9" x2="400" y2="466.9"/>
<line x1="400.2" y1="466.9" x2="400.2" y2="367.7"/>
<line x1="612.3" y1="311.2" x2="612.3" y2="410"/>
</g>
<line x1="612.7" y1="410" x2="698.5" y2="304.5" stroke="#8cc0ea" stroke-width="12" stroke-opacity="0.7"/>
<line x1="612.7" y1="410" x2="698.5" y2="304.5" stroke="#3d8fd6" stroke-width="6.5"/>
<line x1="612.7" y1="410" x2="701.5" y2="285.3" stroke="#b8cdf0" stroke-width="6" stroke-opacity="0.6"/>
<circle cx="698.7" cy="305" r="6.6" fill="#2f86c8"/><circle cx="698.7" cy="305" r="4" fill="#6f8a3a"/>
<circle cx="613" cy="410.8" r="7.4" fill="#5ea8e4" stroke="#2a8ad6" stroke-width="3.2"/>
<path d="M607.6,413 A5.6,5.6 0 0 0 618.6,413" fill="none" stroke="#1a2a5a" stroke-width="2.2"/>
<path d="M595.3,405.4 L603,404.8 L606.8,407 L603,409.4 L595.3,408.8 Z" fill="#2a8ad6"/>
<line x1="590.2" y1="423" x2="612.7" y2="410" stroke="#000" stroke-width="2.6"/>
<line x1="612.7" y1="410" x2="698.5" y2="304.5" stroke="#000" stroke-width="1.8"/>
<line x1="612.7" y1="410" x2="701.5" y2="285.3" stroke="#000" stroke-width="2"/>
<g fill="#fff" stroke="#000" stroke-width="2.2">
<circle cx="86.5" cy="481.5" r="10.9"/>
<circle cx="399.9" cy="346" r="10.9"/>
<circle cx="435" cy="438.2" r="10.9"/>
<circle cx="475.4" cy="365.8" r="10.9"/>
<circle cx="541" cy="436.9" r="10.9"/>
<circle cx="569.6" cy="386.2" r="10.9"/>
<circle cx="589.9" cy="438.4" r="10.9"/>
</g>
<g fill="#2f7dc4" font-size="12" text-anchor="middle">
<text x="399.9" y="349.9">2</text>
<text x="435" y="442.1">3</text>
<text x="541" y="440.8">5</text>
<text x="569.6" y="390.1">6</text>
<text x="589.9" y="442.3">7</text>
</g>
<path d="M87.5,475.2 V485.3 M87.5,475.4 Q86.4,477.4 84.6,478.2" fill="none" stroke="#5aa8dc" stroke-width="1.2"/>
<line x1="87.5" y1="473" x2="87.5" y2="484.5" stroke="#4a5a70" stroke-width="1.1"/>
<circle cx="476.8" cy="376.6" r="15.2" fill="#1f88d2" stroke="#1a2a6a" stroke-width="0.8"/>
<path d="M468.6,372.3 H477.6 L476.6,374.4 M471,373.6 L472.1,374.7 M470.5,375.2 L471.6,376.3 M468,377.4 H478.8 M473.8,372.3 V377.4 Q473.2,379.6 469,380.8 M474.3,377.9 L478.2,380.6" fill="none" stroke="#e8f4ff" stroke-width="1.05"/>
<path d="M482.9,372.4 V380.4 M482.9,372.6 Q481.8,374.4 479.9,375.2" fill="none" stroke="#e8f4ff" stroke-width="1.15"/>
<g fill="#1f88d2" font-size="20.5" font-weight="bold" font-style="italic">
<text x="408.3" y="455.6">H</text>
<text x="591.4" y="397.4">H</text>
</g>
<polyline points="701.5,285.3 727.3,320.3 746.5,220.3 778.4,286.2" fill="none" stroke="#a8c4ec" stroke-width="6" stroke-opacity="0.6"/>
<polyline points="701.5,285.3 727.3,320.3 746.5,220.3 778.4,286.2" fill="none" stroke="#000" stroke-width="2.4"/>
<circle cx="701.5" cy="285.3" r="6" fill="#000"/>
<circle cx="727.3" cy="320.3" r="6" fill="#000"/>
<circle cx="746.5" cy="220.3" r="6" fill="#000"/>
<circle cx="778.4" cy="286.2" r="6" fill="#000"/>
<line x1="489.3" y1="303.6" x2="683" y2="303.6" stroke="#2a7fc0" stroke-width="2.8"/>
<path d="M681.5,299.9 L689.5,303.6 L681.5,307.3 Z" fill="#2a7fc0"/>
<rect x="338.8" y="292.7" width="50.6" height="21.4" rx="3.5" fill="#6b8e23" stroke="#2a2a44" stroke-width="1"/>
<text x="364.1" y="308.1" fill="#f4f7e0" font-size="15.4" letter-spacing="-0.75" text-anchor="middle">22.46</text>
<rect x="425.9" y="292.9" width="56.6" height="21.5" rx="3.5" fill="#1f88d2" stroke="#1a2a6a" stroke-width="1"/>
<text x="454.2" y="308" fill="#eef6ff" font-size="14.8" text-anchor="middle">Target</text>
</svg></body></html>
